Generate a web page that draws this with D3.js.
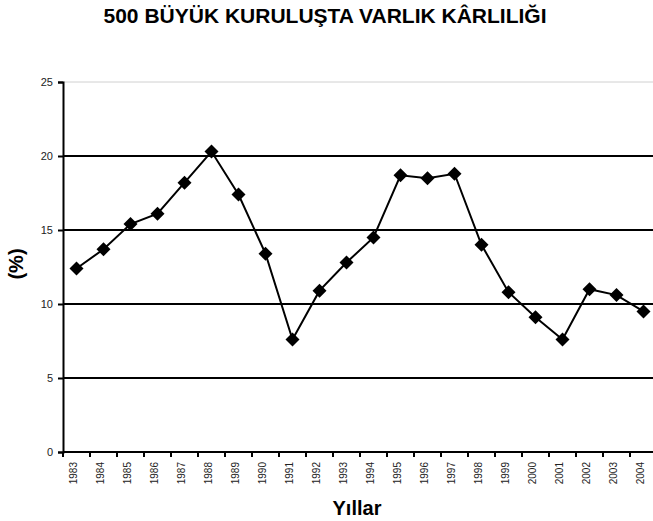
<!DOCTYPE html>
<html>
<head>
<meta charset="utf-8">
<script src="https://cdn.jsdelivr.net/npm/d3@7"></script>
<style>
  body { margin: 0; background: #fff; }
  svg { font-family: "Liberation Sans", Arial, sans-serif; }
</style>
</head>
<body>
<svg id="chart" width="653" height="521"></svg>
<script>
// data
const years = ["1983","1984","1985","1986","1987","1988","1989","1990","1991","1992","1993",
               "1994","1995","1996","1997","1998","1999","2000","2001","2002","2003","2004"];
const profitability = [12.4, 13.7, 15.4, 16.1, 18.2, 20.3, 17.4, 13.4, 7.6, 10.9, 12.8,
                       14.5, 18.7, 18.5, 18.8, 14.0, 10.8, 9.1, 7.6, 11.0, 10.6, 9.5];
const yTicks = [0, 5, 10, 15, 20, 25];

const svg = d3.select("#chart");
const margin = {top: 82, left: 63, bottom: 452, right: 657};

const xScale = d3.scaleBand()
  .domain(years)
  .range([margin.left, margin.right]);

const yScale = d3.scaleLinear()
  .domain([0, 25])
  .range([margin.bottom, margin.top]);

// title
svg.append("text")
  .attr("x", 325)
  .attr("y", 23)
  .attr("text-anchor", "middle")
  .style("font-size", "21px")
  .style("font-weight", "bold")
  .text("500 BÜYÜK KURULUŞTA VARLIK KÂRLILIĞI");

// gridlines
svg.append("g")
  .selectAll("line")
  .data(yTicks.filter(d => d > 0))
  .enter()
  .append("line")
  .attr("x1", margin.left)
  .attr("x2", margin.right)
  .attr("y1", d => yScale(d))
  .attr("y2", d => yScale(d))
  .attr("stroke", d => d === 25 ? "#d0d0d0" : "#000")
  .attr("stroke-width", d => d === 25 ? 1 : 2);

// y-axis
const yAxis = svg.append("g")
  .attr("transform", `translate(${margin.left},0)`)
  .call(d3.axisLeft(yScale).tickValues(yTicks).tickSize(5).tickPadding(5));
yAxis.select(".domain").attr("stroke", "#000").attr("stroke-width", 2);
yAxis.selectAll(".tick line").attr("stroke-width", 2);
yAxis.selectAll("text")
  .style("font-size", "11px")
  .attr("fill", "#222");

// x-axis (ticks at category boundaries)
const xAxis = svg.append("g")
  .attr("transform", `translate(0,${margin.bottom})`);
xAxis.append("line")
  .attr("x1", margin.left)
  .attr("x2", margin.right)
  .attr("stroke", "#000")
  .attr("stroke-width", 2);
xAxis.selectAll(".tk")
  .data(years)
  .enter()
  .append("line")
  .attr("class", "tk")
  .attr("x1", d => xScale(d))
  .attr("x2", d => xScale(d))
  .attr("y1", 0)
  .attr("y2", 5)
  .attr("stroke", "#000")
  .attr("stroke-width", 2);
xAxis.selectAll(".lbl")
  .data(years)
  .enter()
  .append("text")
  .attr("class", "lbl")
  .attr("transform", d => `translate(${xScale(d) + xScale.bandwidth() / 2},10) rotate(-90)`)
  .attr("text-anchor", "end")
  .style("font-size", "10px")
  .attr("fill", "#222")
  .text(d => d);

// axis titles
svg.append("text")
  .attr("transform", "translate(23,264) rotate(-90)")
  .attr("text-anchor", "middle")
  .style("font-size", "20px")
  .style("font-weight", "bold")
  .text("(%)");

svg.append("text")
  .attr("x", 357)
  .attr("y", 515)
  .attr("text-anchor", "middle")
  .style("font-size", "20px")
  .style("font-weight", "bold")
  .text("Yıllar");

// line
const cx = (d, i) => xScale(years[i]) + xScale.bandwidth() / 2;
const line = d3.line()
  .x(cx)
  .y(d => yScale(d));

svg.append("path")
  .datum(profitability)
  .attr("d", line)
  .attr("fill", "none")
  .attr("stroke", "#000")
  .attr("stroke-width", 2);

// diamond markers
svg.selectAll(".pt")
  .data(profitability)
  .enter()
  .append("path")
  .attr("class", "pt")
  .attr("d", "M0,-7L7,0L0,7L-7,0Z")
  .attr("transform", (d, i) => `translate(${cx(d, i)},${yScale(d)})`)
  .attr("fill", "#000");
</script>
</body>
</html>
